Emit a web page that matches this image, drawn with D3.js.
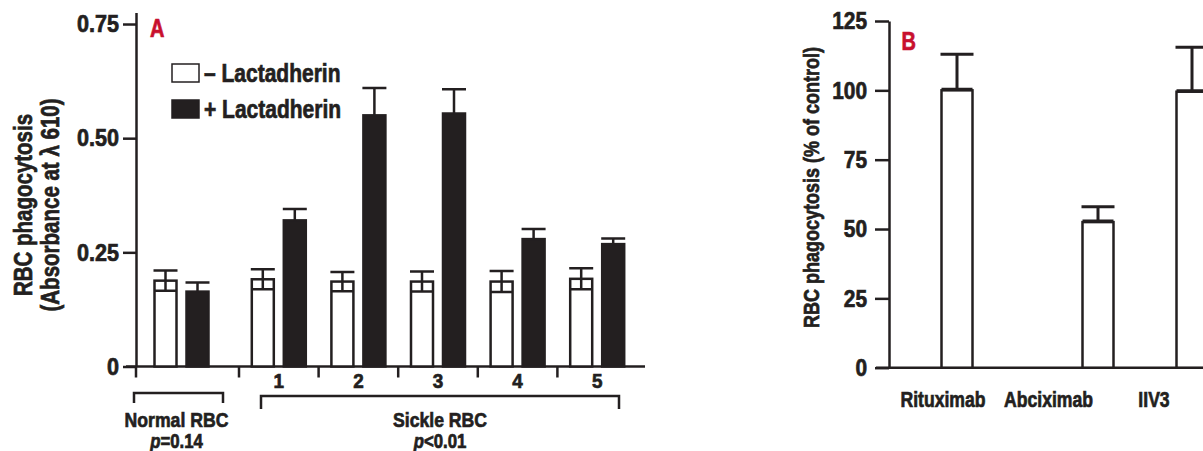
<!DOCTYPE html>
<html>
<head>
<meta charset="utf-8">
<script src="https://cdn.jsdelivr.net/npm/d3@7"></script>
<style>
  body { margin: 0; background: #fff; }
  svg text { font-family: "Liberation Sans", Arial, sans-serif; font-weight: bold; fill: #231f20; stroke: #231f20; stroke-width: 0.7px; }
</style>
</head>
<body>
<svg id="chart" width="1203" height="451"></svg>
<script>
// ---------- panel A data
const groupsA = ["Normal", "1", "2", "3", "4", "5"];
const sickleGroups = ["1", "2", "3", "4", "5"];
const minusMean = [0.188, 0.191, 0.186, 0.186, 0.186, 0.192];
const minusErr = [0.022, 0.022, 0.021, 0.022, 0.023, 0.023];
const plusMean = [0.164, 0.320, 0.550, 0.554, 0.279, 0.268];
const plusErr = [0.020, 0.025, 0.060, 0.053, 0.022, 0.0125];
const yTicksA = [0, 0.25, 0.5, 0.75];
const legendA = ["\u2013 Lactadherin", "+ Lactadherin"];

// ---------- panel B data
const agentsB = ["Rituximab", "Abciximab", "IIV3"];
const agentSlot = [0, 3, 5];
const phagoB = [100, 52.5, 99.5];
const phagoErrB = [13, 5.5, 16];
const yTicksB = [0, 25, 50, 75, 100, 125];

const ink = "#231f20";
const red = "#c8102e";

const svg = d3.select("#chart");

// no condensed font installed -> squash Liberation Sans Bold horizontally
function narrow(sel, k = 0.8) {
  sel.each(function () {
    const t = d3.select(this);
    const x = +t.attr("x") || 0, y = +t.attr("y") || 0;
    t.attr("x", null).attr("y", null)
      .attr("transform", `translate(${x},${y}) scale(${k},1)`);
  });
}

// ======================= PANEL A
const yA = d3.scaleLinear().domain([0, 0.775]).range([366.5, 12.6]);
const xNormal = d3.scaleBand().domain(["Normal"]).range([136, 227]);
const xSickle = d3.scaleBand().domain(sickleGroups).range([239, 637]);
const xInner = d3.scaleBand().domain(["minus", "plus"]).range([-27, 27]).paddingInner(0.3125);
const groupCenter = g => g === "Normal"
  ? xNormal(g) + xNormal.bandwidth() / 2
  : xSickle(g) + xSickle.bandwidth() / 2;

const gA = svg.append("g");

// y axis
gA.append("g")
  .attr("transform", "translate(136,0)")
  .call(d3.axisLeft(yA).tickValues(yTicksA).tickSize(13).tickSizeOuter(0).tickPadding(4)
    .tickFormat(d => d === 0 ? "0" : d3.format(".2f")(d)))
  .call(g => g.selectAll("path, line").attr("stroke", ink).attr("stroke-width", 2.5))
  .call(g => g.selectAll("text").style("font-size", "24px").attr("fill", ink).call(narrow, 0.9));

// x axis line + ticks
gA.append("line")
  .attr("x1", 126).attr("x2", 645)
  .attr("y1", yA(0)).attr("y2", yA(0))
  .attr("stroke", ink).attr("stroke-width", 2.5);
gA.selectAll(".xtick")
  .data([136].concat(sickleGroups.map(g => xSickle(g))))
  .join("line")
  .attr("x1", d => d).attr("x2", d => d)
  .attr("y1", yA(0)).attr("y2", yA(0) + 11)
  .attr("stroke", ink).attr("stroke-width", 2.5);

gA.selectAll(".grouplabel")
  .data(sickleGroups)
  .join("text")
  .attr("x", d => groupCenter(d))
  .attr("y", 388)
  .attr("text-anchor", "middle")
  .style("font-size", "21px")
  .text(d => d)
  .call(narrow, 0.9);

// bars
const barsA = groupsA.flatMap((g, i) => [
  { g, key: "minus", v: minusMean[i], e: minusErr[i] },
  { g, key: "plus", v: plusMean[i], e: plusErr[i] }
]);
const bw = xInner.bandwidth();
const barX = d => groupCenter(d.g) + xInner(d.key);

gA.selectAll(".barA")
  .data(barsA)
  .join("rect")
  .attr("class", "barA")
  .attr("x", barX)
  .attr("y", d => yA(d.v))
  .attr("width", bw)
  .attr("height", d => yA(0) - yA(d.v))
  .attr("fill", d => d.key === "plus" ? ink : "#fff")
  .attr("stroke", ink)
  .attr("stroke-width", 2.5);

// error bars
gA.selectAll(".errA")
  .data(barsA)
  .join("path")
  .attr("d", d => {
    const cx = barX(d) + bw / 2;
    const lo = d.key === "minus" ? d.v - d.e : d.v;
    const hi = d.v + d.e;
    let p = `M${cx},${yA(lo)}V${yA(hi)}M${cx - bw / 2 - 1},${yA(hi)}H${cx + bw / 2 + 1}`;
    if (d.key === "minus") p += `M${cx - bw / 2},${yA(lo)}H${cx + bw / 2}`;
    return p;
  })
  .attr("fill", "none")
  .attr("stroke", ink)
  .attr("stroke-width", 2.5);

// legend
const legend = gA.selectAll(".legA")
  .data(legendA)
  .join("g")
  .attr("transform", (d, i) => `translate(172,${64 + i * 36})`);
legend.append("rect")
  .attr("width", 27).attr("height", 18)
  .attr("fill", (d, i) => i ? ink : "#fff")
  .attr("stroke", ink).attr("stroke-width", 1.5);
legend.append("text")
  .attr("x", 32).attr("y", 18)
  .style("font-size", "25px")
  .text(d => d)
  .call(narrow, 0.84);

// panel letter
gA.append("text").attr("x", 150).attr("y", 37)
  .style("font-size", "25px").style("fill", red).style("stroke", red).text("A").call(narrow);

// y label
const ylabA = gA.append("text")
  .attr("transform", "translate(31.7,205) rotate(-90) scale(0.82,1)")
  .attr("text-anchor", "middle")
  .style("font-size", "25px");
ylabA.append("tspan").attr("x", 0).attr("y", 0).text("RBC phagocytosis");
ylabA.append("tspan").attr("x", 0).attr("y", 27.3).text("(Absorbance at \u03bb 610)");

// group brackets
const nL = xNormal(xNormal.domain()[0]) - 2, nR = nL + xNormal.bandwidth() - 2;
gA.append("path")
  .attr("d", `M${nL},403V393H${nR}V403`)
  .attr("fill", "none").attr("stroke", ink).attr("stroke-width", 2.5);
const sL = xSickle("1") + 22, sR = xSickle("5") + xSickle.bandwidth() - 18;
gA.append("path")
  .attr("d", `M${sL},409V396H${sR}V409`)
  .attr("fill", "none").attr("stroke", ink).attr("stroke-width", 2.5);

const groupNotes = [
  { x: (nL + nR) / 2 - 2, title: "Normal RBC", rel: "=0.14" },
  { x: (sL + sR) / 2, title: "Sickle RBC", rel: "<0.01" }
];
groupNotes.forEach(n => {
  gA.append("text").attr("x", n.x).attr("y", 427)
    .attr("text-anchor", "middle").style("font-size", "21px").text(n.title).call(narrow, 0.84);
  const t = gA.append("text").attr("x", n.x).attr("y", 447.5)
    .attr("text-anchor", "middle").style("font-size", "20px");
  t.append("tspan").style("font-style", "italic").text("p");
  t.append("tspan").text(n.rel);
  t.call(narrow, 0.84);
});

// ======================= PANEL B
const yB = d3.scaleLinear().domain([0, 125]).range([367.7, 21]);
const xSlot = d3.scaleLinear().domain([0, 5]).range([957, 1192]);
const xLabB = d3.scalePoint().domain(agentsB).range([943, 1154]);
const bwB = 31;

const gB = svg.append("g");

gB.append("g")
  .attr("transform", "translate(889,0)")
  .call(d3.axisLeft(yB).tickValues(yTicksB).tickSize(14).tickSizeOuter(0).tickPadding(8))
  .call(g => g.selectAll("path, line").attr("stroke", ink).attr("stroke-width", 2.5))
  .call(g => g.selectAll("text").style("font-size", "24px").attr("fill", ink).call(narrow, 0.87));

gB.append("line")
  .attr("x1", 876).attr("x2", 1203)
  .attr("y1", yB(0)).attr("y2", yB(0))
  .attr("stroke", ink).attr("stroke-width", 2.5);

const barsB = agentsB.map((a, i) => ({ a, slot: agentSlot[i], v: phagoB[i], e: phagoErrB[i] }));

gB.selectAll(".barB")
  .data(barsB)
  .join("rect")
  .attr("x", d => xSlot(d.slot) - bwB / 2)
  .attr("y", d => yB(d.v))
  .attr("width", bwB)
  .attr("height", d => yB(0) - yB(d.v))
  .attr("fill", "#fff")
  .attr("stroke", ink)
  .attr("stroke-width", 2.5);

gB.selectAll(".errB")
  .data(barsB)
  .join("path")
  .attr("d", d => {
    const cx = xSlot(d.slot);
    return `M${cx},${yB(d.v)}V${yB(d.v + d.e)}M${cx - bwB / 2 - 1},${yB(d.v + d.e)}H${cx + bwB / 2 + 1}` +
      `M${cx - bwB / 2},${yB(d.v) - 1}H${cx + bwB / 2}`;
  })
  .attr("fill", "none")
  .attr("stroke", ink)
  .attr("stroke-width", 3);

gB.selectAll(".labB")
  .data(agentsB)
  .join("text")
  .attr("x", d => xLabB(d))
  .attr("y", 406.5)
  .attr("text-anchor", "middle")
  .style("font-size", "22px")
  .text(d => d)
  .call(narrow, 0.8);

gB.append("text").attr("x", 901.5).attr("y", 50)
  .style("font-size", "25px").style("fill", red).style("stroke", red).text("B").call(narrow);

gB.append("text")
  .attr("transform", "translate(819,187.5) rotate(-90) scale(0.8,1)")
  .attr("text-anchor", "middle")
  .style("font-size", "22.5px")
  .text("RBC phagocytosis (% of control)");
</script>
</body>
</html>
